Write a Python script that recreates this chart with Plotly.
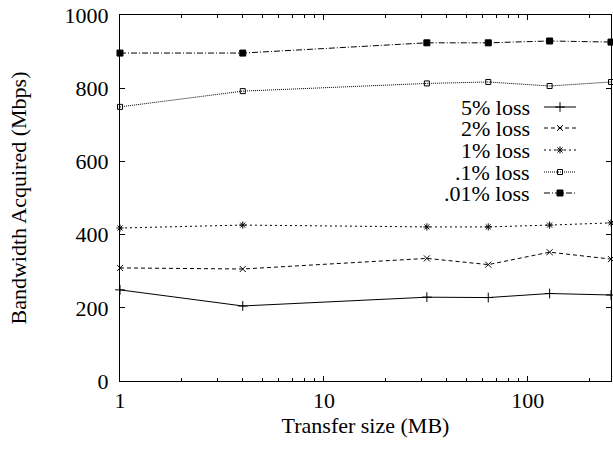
import plotly.graph_objects as go

sizes = [1, 4, 32, 64, 128, 256]
loss_5 = [249, 205, 229, 228, 239, 235]
loss_2 = [309, 306, 335, 318, 352, 333]
loss_1 = [418, 426, 421, 421, 426, 432]
loss_01 = [749, 792, 813, 817, 806, 817]
loss_001 = [896, 896, 924, 924, 929, 926]

names = ["5% loss", "2% loss", "1% loss", ".1% loss", ".01% loss"]
series = [loss_5, loss_2, loss_1, loss_01, loss_001]
symbols = ["cross-thin-open", "x-thin-open", "asterisk-open", "square-open", "square"]
dashes = ["solid", "4px,3px", "2px,3px", "1px,1px", "6px,2px,1px,2px"]
msizes = [7, 6, 6, 5, 6]

FONT = "Liberation Serif, Times New Roman, serif"
FS = 22

fig = go.Figure()
for name, ys, sym, dash, ms in zip(names, series, symbols, dashes, msizes):
    fig.add_trace(go.Scatter(
        x=sizes, y=ys, mode="lines+markers", name=name, showlegend=False,
        line=dict(color="black", width=1, dash=dash),
        marker=dict(symbol=sym, size=ms, color="black",
                    line=dict(color="black", width=1)),
        cliponaxis=False,
    ))

# Legend drawn gnuplot-style (text left, sample right) on an overlay axis in pixel units
row_y = [92, 113, 135, 157, 178]
for i, (name, sym, dash, ms) in enumerate(zip(names, symbols, dashes, msizes)):
    yy = row_y[i]
    fig.add_trace(go.Scatter(
        x=[424, 440, 456], y=[yy, yy, yy], mode="lines", xaxis="x2", yaxis="y2",
        showlegend=False, hoverinfo="skip",
        line=dict(color="black", width=1, dash=dash),
    ))
    fig.add_trace(go.Scatter(
        x=[440], y=[yy], mode="markers", xaxis="x2", yaxis="y2",
        showlegend=False, hoverinfo="skip",
        marker=dict(symbol=sym, size=ms, color="black", line=dict(color="black", width=1)),
    ))
    fig.add_annotation(x=411, y=yy, xref="x2", yref="y2", text=name,
                       showarrow=False, xanchor="right", yanchor="middle",
                       height=20, valign="middle", borderpad=0,
                       font=dict(family=FONT, size=FS, color="black"))

minor_x = [2, 3, 4, 5, 6, 7, 8, 9, 20, 30, 40, 50, 60, 70, 80, 90, 200]

fig.update_layout(
    width=613, height=449,
    margin=dict(l=120, r=2, t=15, b=68),
    paper_bgcolor="white", plot_bgcolor="white",
    font=dict(family=FONT, size=FS, color="black"),
    xaxis=dict(
        type="log", range=[0, 2.40824], tickvals=[1, 10, 100], ticktext=["1", "10", "100"],
        ticks="inside", ticklen=5, tickwidth=1, tickcolor="black",
        showline=True, linecolor="black", linewidth=1, mirror="ticks",
        showgrid=False, zeroline=False, automargin=False, ticklabeloverflow="allow",
        minor=dict(tickvals=minor_x, ticks="inside", ticklen=3, tickcolor="black", showgrid=False),
        title=dict(text="Transfer size (MB)", standoff=4, font=dict(size=FS)),
        tickfont=dict(size=FS),
    ),
    yaxis=dict(
        range=[0, 1000], tickvals=[0, 200, 400, 600, 800, 1000],
        ticks="inside", ticklen=5, tickwidth=1, tickcolor="black",
        showline=True, linecolor="black", linewidth=1, mirror="ticks",
        showgrid=False, zeroline=False, automargin=False, ticklabeloverflow="allow",
        ticklabelstandoff=6,
        title=dict(text="Bandwidth Acquired (Mbps)", standoff=31, font=dict(size=FS)),
        tickfont=dict(size=FS),
    ),
    xaxis2=dict(overlaying="x", range=[0, 491], visible=False, fixedrange=True),
    yaxis2=dict(overlaying="y", range=[366, 0], visible=False, fixedrange=True),
)

fig.write_html("out.html", config={"displayModeBar": False},
               post_script="document.body.style.margin='0';")
